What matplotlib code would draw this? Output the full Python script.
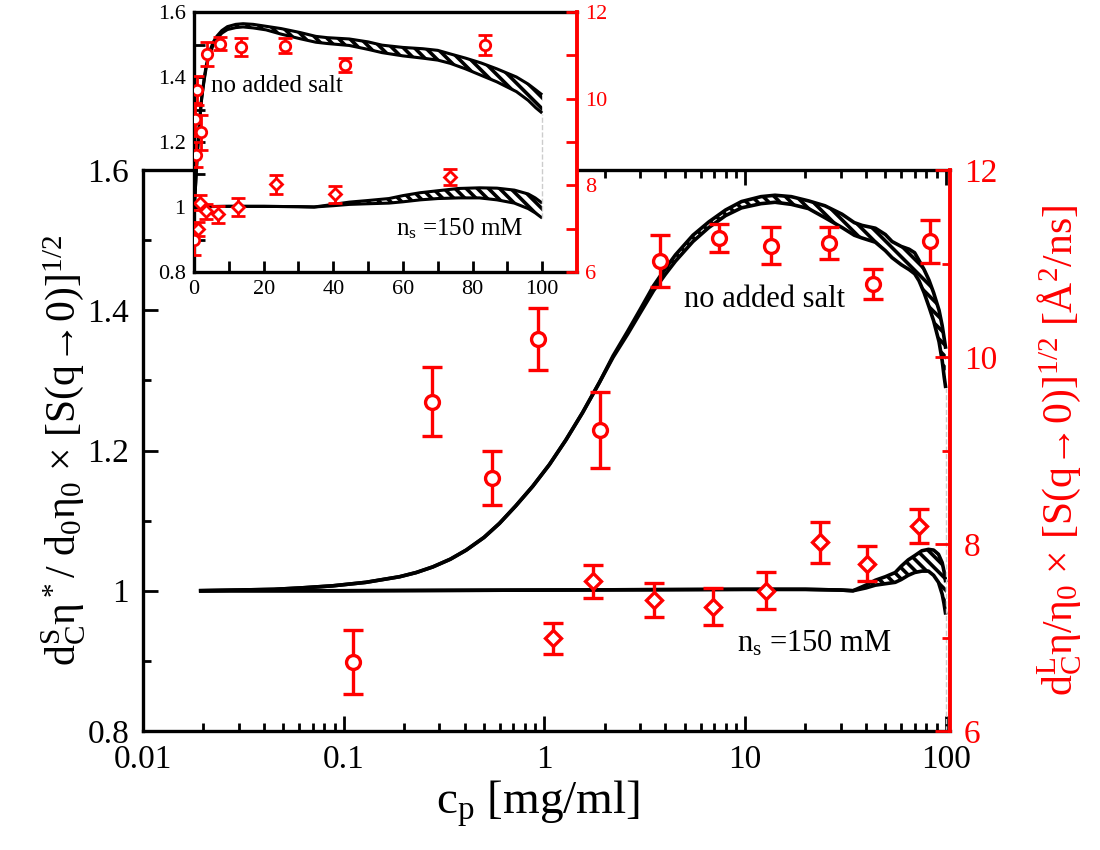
import matplotlib
matplotlib.use("Agg")
import matplotlib.pyplot as plt
from matplotlib.ticker import FixedLocator, LogLocator, NullFormatter

plt.rcParams["font.family"] = ["Liberation Serif", "DejaVu Serif"]
plt.rcParams["mathtext.fontset"] = "custom"
plt.rcParams["mathtext.rm"] = "Liberation Serif"
plt.rcParams["mathtext.it"] = "Liberation Serif"
plt.rcParams["mathtext.default"] = "regular"
plt.rcParams["hatch.linewidth"] = 2.6

# measured points (right axis units), no added salt
x_nosalt = [0.111, 0.276, 0.547, 0.926, 1.89, 3.76, 7.44, 13.5, 26.1, 43.3, 83.5]
y_nosalt = [6.74, 9.52, 8.71, 10.19, 9.22, 11.03, 11.27, 11.19, 11.22, 10.78, 11.24]
e_nosalt = [0.34, 0.37, 0.29, 0.33, 0.41, 0.28, 0.15, 0.20, 0.17, 0.16, 0.23]

# measured points, n_s = 150 mM
x_salt = [1.10, 1.74, 3.5, 6.9, 12.7, 23.5, 40.5, 73.5]
y_salt = [6.99, 7.60, 7.40, 7.33, 7.50, 8.02, 7.79, 8.19]
e_salt = [0.17, 0.18, 0.18, 0.20, 0.20, 0.22, 0.19, 0.18]

# theory band, no added salt (left axis units)
x_th_nosalt = [0.019, 0.03, 0.045, 0.061, 0.088, 0.129, 0.19, 0.23, 0.278, 0.34,
               0.408, 0.5, 0.597, 0.72, 0.875, 1.06, 1.28, 1.55, 1.88, 2.2, 2.6,
               3.0, 3.5, 4.0, 4.5, 5.5, 6.6, 8.0, 9.6, 12, 14.1, 17, 20.7, 25, 30.4,
               35, 38.3, 44.6, 50, 54, 60, 65.7, 70, 73.6, 78, 82.5, 87, 92.6, 96,
               98.2, 100]
up_nosalt = [1.000, 1.001, 1.002, 1.004, 1.007, 1.012, 1.020, 1.026, 1.034, 1.045,
             1.058, 1.076, 1.096, 1.121, 1.149, 1.180, 1.215, 1.254, 1.297, 1.335,
             1.370, 1.401, 1.435, 1.459, 1.479, 1.507, 1.526, 1.543, 1.555, 1.562,
             1.564, 1.562, 1.556, 1.549, 1.537, 1.525, 1.521, 1.517, 1.508, 1.498,
             1.491, 1.487, 1.482, 1.471, 1.458, 1.443, 1.425, 1.400, 1.378, 1.360,
             1.345]
lo_nosalt = [1.000, 1.001, 1.002, 1.004, 1.007, 1.012, 1.020, 1.026, 1.034, 1.045,
             1.058, 1.076, 1.096, 1.121, 1.149, 1.180, 1.215, 1.254, 1.297, 1.333,
             1.366, 1.396, 1.428, 1.451, 1.470, 1.498, 1.518, 1.535, 1.546, 1.552,
             1.554, 1.551, 1.545, 1.532, 1.518, 1.507, 1.503, 1.497, 1.485, 1.475,
             1.465, 1.458, 1.452, 1.442, 1.425, 1.405, 1.385, 1.355, 1.328, 1.305,
             1.289]

# theory band, n_s = 150 mM
x_th_salt = [0.019, 0.1, 1, 10, 20, 30, 34.5, 40, 44.6, 50, 56, 60, 65, 70, 76, 82,
             87, 92, 96, 98, 100]
up_salt = [1.0, 1.0, 1.001, 1.002, 1.002, 1.001, 1.0, 1.008, 1.015, 1.020, 1.026,
           1.035, 1.044, 1.050, 1.057, 1.059, 1.058, 1.052, 1.040, 1.028, 1.012]
lo_salt = [1.0, 1.0, 1.001, 1.002, 1.002, 1.001, 1.0, 1.004, 1.008, 1.010, 1.012,
           1.016, 1.022, 1.026, 1.028, 1.028, 1.022, 1.012, 0.995, 0.982, 0.966]

RED = "#ff0000"
SQRT_S = r"$\times\ [S(q\!\rightarrow\!0)]^{1/2}$"


def draw_theory(a, lw):
    for x, lo, up in [(x_th_nosalt, lo_nosalt, up_nosalt), (x_th_salt, lo_salt, up_salt)]:
        a.fill_between(x, lo, up, facecolor="white", edgecolor="black",
                       hatch="\\\\\\", linewidth=0)
        a.plot(x, up, color="black", lw=lw, solid_capstyle="butt")
        a.plot(x, lo, color="black", lw=lw, solid_capstyle="butt")


def draw_points(a, ms, cap, lw):
    a.errorbar(x_nosalt, y_nosalt, yerr=e_nosalt, fmt="o", color=RED, ms=ms,
               mfc="white", mec=RED, mew=lw, elinewidth=lw, capsize=cap, capthick=lw)
    a.errorbar(x_salt, y_salt, yerr=e_salt, fmt="D", color=RED, ms=ms * 0.8,
               mfc="white", mec=RED, mew=lw, elinewidth=lw, capsize=cap, capthick=lw)


fig = plt.figure(figsize=(11, 8.5), dpi=100)

# main panel
ax = fig.add_axes([143 / 1100, 1 - 731 / 850, 807 / 1100, 561 / 850])
draw_theory(ax, 2.6)
ax.plot([100, 100], [0.8, 1.289], color="#cccccc", ls="--", lw=1)
ax.set_xscale("log")
ax.set_xlim(0.01, 105)
ax.set_ylim(0.8, 1.6)
ax.xaxis.set_major_locator(FixedLocator([0.01, 0.1, 1, 10, 100]))
ax.set_xticklabels(["0.01", "0.1", "1", "10", "100"])
ax.xaxis.set_minor_locator(LogLocator(subs=range(2, 10)))
ax.xaxis.set_minor_formatter(NullFormatter())
ax.set_yticks([0.8, 1.0, 1.2, 1.4, 1.6])
ax.set_yticklabels(["0.8", "1", "1.2", "1.4", "1.6"])
ax.set_yticks([0.9, 1.1, 1.3, 1.5], minor=True)
ax.tick_params(which="both", direction="in", top=True, right=False, width=2,
               labelsize=24, pad=10)
ax.tick_params(which="major", length=11)
ax.tick_params(which="minor", length=6)
for s in ax.spines.values():
    s.set_linewidth(2.4)
ax.spines["right"].set_visible(False)
ax.set_xlabel(r"$c_p$ [mg/ml]", fontsize=34)
ax.xaxis.set_label_coords(0.49, -0.085)
ax.set_ylabel(r"$d_C^S\eta^*/\ d_0\eta_0$ " + SQRT_S, fontsize=30)
ax.yaxis.set_label_coords(-0.07, 0.5)
ax.text(4.97, 1.404, "no added salt", fontsize=22)
ax.text(9.1, 0.913, r"$n_s$ =150 mM", fontsize=22)

ax2 = ax.twinx()
draw_points(ax2, 10, 7, 2.4)
ax2.set_ylim(6, 12)
ax2.set_yticks([6, 8, 10, 12])
ax2.set_yticks([7, 9, 11], minor=True)
ax2.tick_params(which="both", direction="in", colors=RED, width=2, labelsize=24, pad=10)
ax2.tick_params(which="major", length=11)
ax2.tick_params(which="minor", length=6)
for k in ["left", "top", "bottom"]:
    ax2.spines[k].set_visible(False)
ax2.spines["right"].set_color(RED)
ax2.spines["right"].set_linewidth(2.8)
ax2.set_ylabel(r"$d_C^L\eta/\eta_0$ " + SQRT_S + " [Å$^2$/ns]", fontsize=30, color=RED)
ax2.yaxis.set_label_coords(1.105, 0.5)

# inset panel, linear concentration axis
ax3 = fig.add_axes([194 / 1100, 1 - 272 / 850, 383 / 1100, 260 / 850])
ax3.set_zorder(3)
ax3.set_facecolor("white")
draw_theory(ax3, 2.2)
ax3.plot([100, 100], [0.966, 1.285], color="#cccccc", ls="--", lw=1)
ax3.set_xlim(0, 110)
ax3.set_ylim(0.8, 1.6)
ax3.set_xticks([0, 20, 40, 60, 80, 100])
ax3.set_xticks(range(10, 110, 20), minor=True)
ax3.set_yticks([0.8, 1.0, 1.2, 1.4, 1.6])
ax3.set_yticklabels(["0.8", "1", "1.2", "1.4", "1.6"])
ax3.set_yticks([0.9, 1.1, 1.3, 1.5], minor=True)
ax3.tick_params(which="both", direction="in", top=False, right=False, width=2,
                labelsize=16, pad=6, length=8)
for s in ax3.spines.values():
    s.set_linewidth(2.4)
ax3.spines["right"].set_visible(False)
ax3.text(5.0, 1.355, "no added salt", fontsize=18)
ax3.text(58, 0.914, r"$n_s$ =150 mM", fontsize=18)

ax4 = ax3.twinx()
ax4.set_zorder(4)
draw_points(ax4, 7.5, 5, 2.0)
ax4.set_ylim(6, 12)
ax4.set_yticks([6, 8, 10, 12])
ax4.set_yticks([7, 9, 11], minor=True)
ax4.tick_params(which="both", direction="in", colors=RED, width=2, labelsize=16,
                pad=6, length=8)
for k in ["left", "top", "bottom"]:
    ax4.spines[k].set_visible(False)
ax4.spines["right"].set_color(RED)
ax4.spines["right"].set_linewidth(2.8)

fig.savefig("out.png", dpi=100)
